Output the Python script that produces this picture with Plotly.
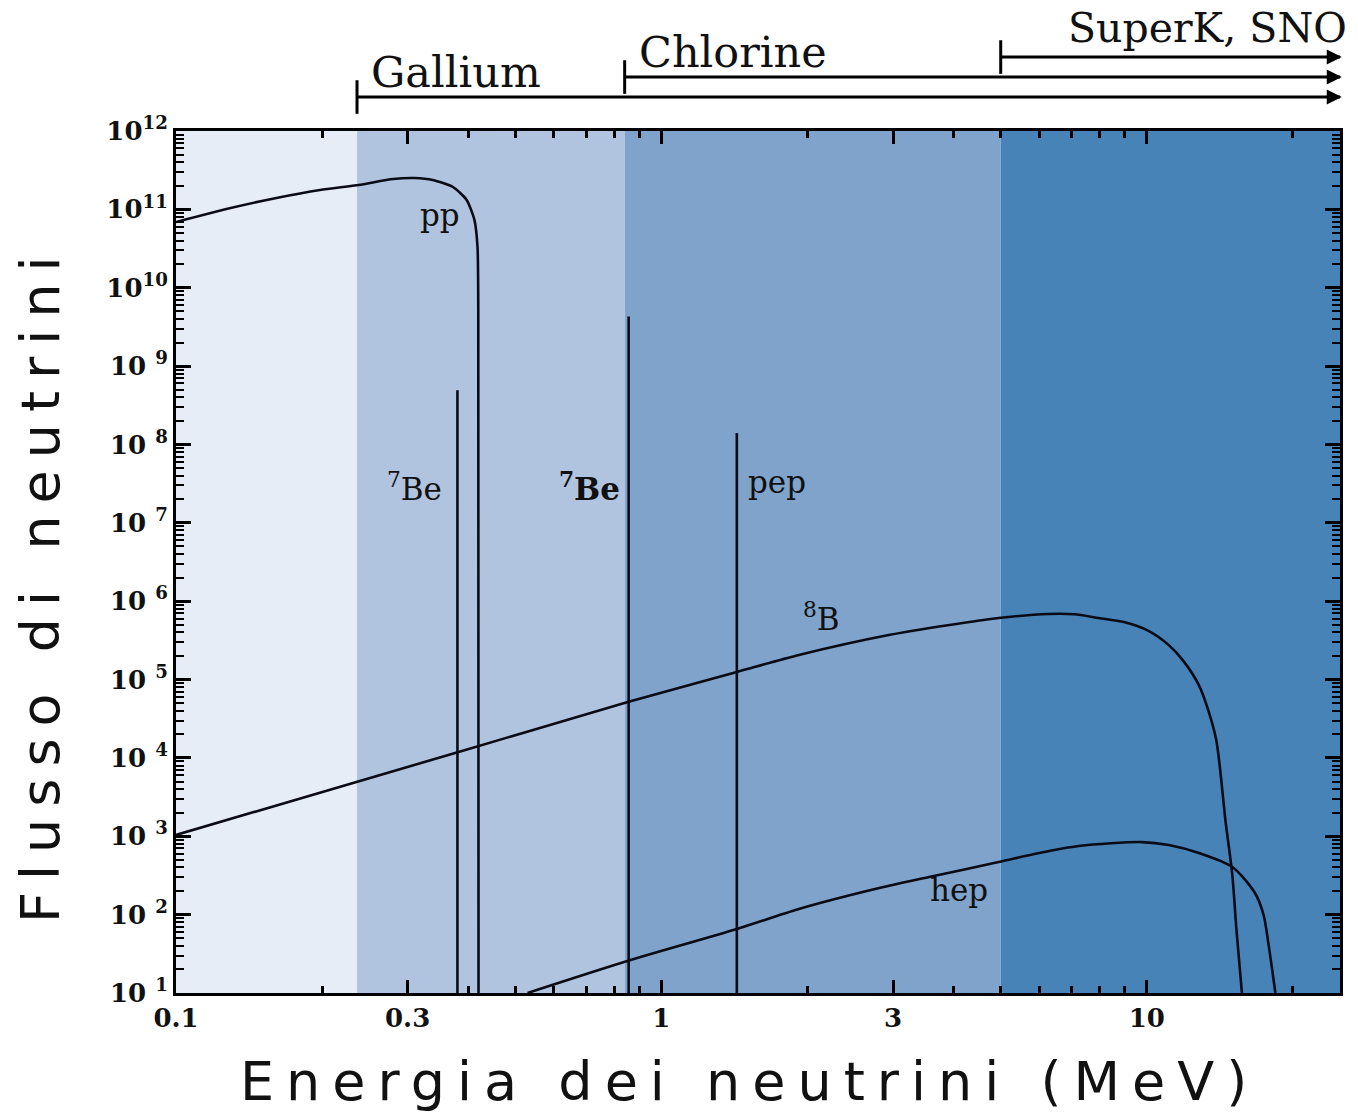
import math
import plotly.graph_objects as go

# ---------------- data ----------------
pp_energy = [0.1, 0.127, 0.161, 0.198, 0.238, 0.280, 0.310, 0.338, 0.372, 0.397, 0.412, 0.418, 0.4195, 0.420]
pp_flux = [6.9e10, 1.01e11, 1.40e11, 1.77e11, 2.05e11, 2.44e11, 2.51e11, 2.37e11, 1.93e11, 1.32e11, 7.3e10, 3.3e10, 5.0e9, 1.0e1]

b8_energy = [0.1, 0.382, 0.856, 1.43, 1.92, 2.94, 3.92, 4.95, 6.28, 7.08, 7.96, 8.97, 10.1, 11.1, 11.9, 12.8, 13.4, 13.9, 14.2, 14.5, 15.0, 15.3, 15.7]
b8_flux = [1.04e3, 1.19e4, 5.2e4, 1.25e5, 2.06e5, 3.7e5, 4.97e5, 6.1e5, 6.86e5, 6.8e5, 6.1e5, 5.42e5, 4.16e5, 2.75e5, 1.72e5, 8.5e4, 3.96e4, 1.69e4, 6.0e3, 1.71e3, 3.2e2, 63, 10]

hep_energy = [0.530, 0.851, 1.43, 1.92, 2.81, 3.56, 4.95, 6.0, 7.24, 9.77, 11.1, 12.8, 15.0, 16.7, 17.4, 17.8, 18.4]
hep_flux = [10, 25.6, 65.5, 118, 218, 302, 469, 611, 750, 843, 773, 611, 405, 189, 99, 43, 10]

line_names = ["7Be (0.38)", "7Be (0.86)", "pep"]
line_energy = [0.380, 0.856, 1.43]
line_flux = [4.9e8, 4.3e9, 1.4e8]

detector_names = ["Gallium", "Chlorine", "SuperK, SNO"]
detector_threshold = [0.236, 0.84, 5.0]

band_edges = [0.1, 0.236, 0.84, 5.0, 25.0]
band_colors = ["#e7edf6", "#b1c4df", "#7fa3ca", "#4883b8"]

y_tickvals = [10.0 ** k for k in range(1, 13)]
y_ticktext = ["10 <sup>%d</sup>" % k if k < 10 else "10<sup>%d</sup>" % k for k in range(1, 13)]
x_tickvals = [0.1, 0.3, 1, 3, 10]
x_ticktext = ["0.1", "0.3", "1", "3", "10"]
x_minor = [0.2, 0.4, 0.5, 0.6, 0.7, 0.8, 0.9, 2, 4, 5, 6, 7, 8, 9, 20]
y_minor = [m * 10.0 ** k for k in range(1, 12) for m in range(2, 10)]

X_MIN, X_MAX = 0.1, 25.0
Y_MIN, Y_MAX = 1e1, 1e12

# ---------------- figure ----------------
fig = go.Figure()
LINE_COLOR = "#0b0b16"

for e, f, sm in [(pp_energy, pp_flux, 0.6), (b8_energy, b8_flux, 0.8), (hep_energy, hep_flux, 0.8)]:
    fig.add_trace(go.Scatter(x=e, y=f, mode="lines",
                             line=dict(color=LINE_COLOR, width=2.6, shape="spline", smoothing=sm),
                             hoverinfo="skip", showlegend=False))

for name, e, f in zip(line_names, line_energy, line_flux):
    fig.add_trace(go.Scatter(x=[e, e], y=[Y_MIN, f], mode="lines", name=name,
                             line=dict(color=LINE_COLOR, width=2.6),
                             hoverinfo="skip", showlegend=False))

shapes = []
for i, c in enumerate(band_colors):
    shapes.append(dict(type="rect", xref="x", yref="paper",
                       x0=band_edges[i], x1=band_edges[i + 1], y0=0, y1=1,
                       fillcolor=c, line=dict(width=0), layer="below"))

# detector threshold arrows at the top
arrow_y = [1.0394, 1.0626, 1.0858]
tick_half = 0.0195
label_y = [1.068, 1.0916, 1.1195]
annotations = []
for name, thr, ay, ly in zip(detector_names, detector_threshold, arrow_y, label_y):
    shapes.append(dict(type="line", xref="x", yref="paper", x0=thr, x1=X_MAX,
                       y0=ay, y1=ay, line=dict(color="black", width=3)))
    shapes.append(dict(type="line", xref="x", yref="paper", x0=thr, x1=thr,
                       y0=ay - tick_half, y1=ay + tick_half, line=dict(color="black", width=3)))
    annotations.append(dict(xref="paper", yref="paper", x=1.0015, y=ay, text="",
                            showarrow=True, ax=-14, ay=0, axref="pixel", ayref="pixel",
                            arrowhead=2, arrowsize=1.0, arrowwidth=3, arrowcolor="black"))
    if name.startswith("SuperK"):
        annotations.append(dict(xref="paper", yref="paper", x=1.0077, y=ly, text=name,
                                showarrow=False, xanchor="right", yanchor="middle",
                                font=dict(family="DejaVu Serif", size=41, color="#111")))
    else:
        annotations.append(dict(xref="x", yref="paper", x=math.log10(thr), y=ly, text=name,
                                showarrow=False, xanchor="left", yanchor="middle", xshift=12,
                                font=dict(family="DejaVu Serif", size=43, color="#111")))

# curve labels
lab_font = dict(family="DejaVu Serif", size=31, color="#111")
curve_labels = [
    ("pp", 0.349, 10.93, False),
    ("<sup>7</sup>Be", 0.310, 7.457, False),
    ("<sup>7</sup>Be", 0.711, 7.457, True),
    ("pep", 1.73, 7.52, False),
    ("<sup>8</sup>B", 2.14, 5.80, False),
    ("hep", 4.10, 2.31, False),
]
for txt, xe, ly, bold in curve_labels:
    f = dict(lab_font)
    if bold:
        f["weight"] = "bold"
    annotations.append(dict(xref="x", yref="y", x=math.log10(xe), y=ly, text=txt,
                            showarrow=False, font=f))

# axis titles (annotations so they can be placed precisely)
annotations.append(dict(xref="paper", yref="paper", x=0.4931, y=-0.1032,
                        text="Energia dei neutrini (MeV)", showarrow=False,
                        xanchor="center", yanchor="middle",
                        font=dict(family="DejaVu Sans", size=54, color="#111")))
annotations.append(dict(xref="paper", yref="paper", x=-0.116, y=0.4745,
                        text="Flusso di neutrini", showarrow=False, textangle=-90,
                        xanchor="center", yanchor="middle",
                        font=dict(family="DejaVu Sans", size=54, color="#111")))

tickfont = dict(family="DejaVu Serif", size=26, color="#111", weight="bold")

fig.update_layout(
    width=1358, height=1116,
    margin=dict(l=176, r=18, t=131, b=123),
    paper_bgcolor="white", plot_bgcolor="white",
    showlegend=False, hovermode=False,
    shapes=shapes, annotations=annotations,
    xaxis=dict(type="log", range=[math.log10(X_MIN), math.log10(X_MAX)],
               tickmode="array", tickvals=x_tickvals, ticktext=x_ticktext,
               ticks="inside", ticklen=13, tickwidth=2.5, tickcolor="black",
               showline=True, linewidth=3, linecolor="black", mirror="allticks",
               showgrid=False, zeroline=False, tickfont=tickfont,
               minor=dict(tickmode="array", tickvals=x_minor, ticks="inside",
                          ticklen=7, tickwidth=2.5, tickcolor="black", showgrid=False)),
    yaxis=dict(type="log", range=[math.log10(Y_MIN), math.log10(Y_MAX)],
               tickmode="array", tickvals=y_tickvals, ticktext=y_ticktext,
               ticks="inside", ticklen=15, tickwidth=2.5, tickcolor="black",
               showline=True, linewidth=3, linecolor="black", mirror="allticks",
               showgrid=False, zeroline=False, tickfont=tickfont,
               minor=dict(tickmode="array", tickvals=y_minor, ticks="inside",
                          ticklen=8, tickwidth=2, tickcolor="black", showgrid=False)),
)

post = """
var gd = document.getElementById('{plot_id}');
function spaceTitles(){
  gd.querySelectorAll('text').forEach(function(t){
    var s = t.textContent;
    if (s.indexOf('Flusso') === 0 || s.indexOf('Energia') === 0) {
      t.style.letterSpacing = '12px';
    }
  });
}
spaceTitles();
gd.on('plotly_afterplot', spaceTitles);
"""

fig.write_html("out.html", post_script=post, config={"displayModeBar": False})
